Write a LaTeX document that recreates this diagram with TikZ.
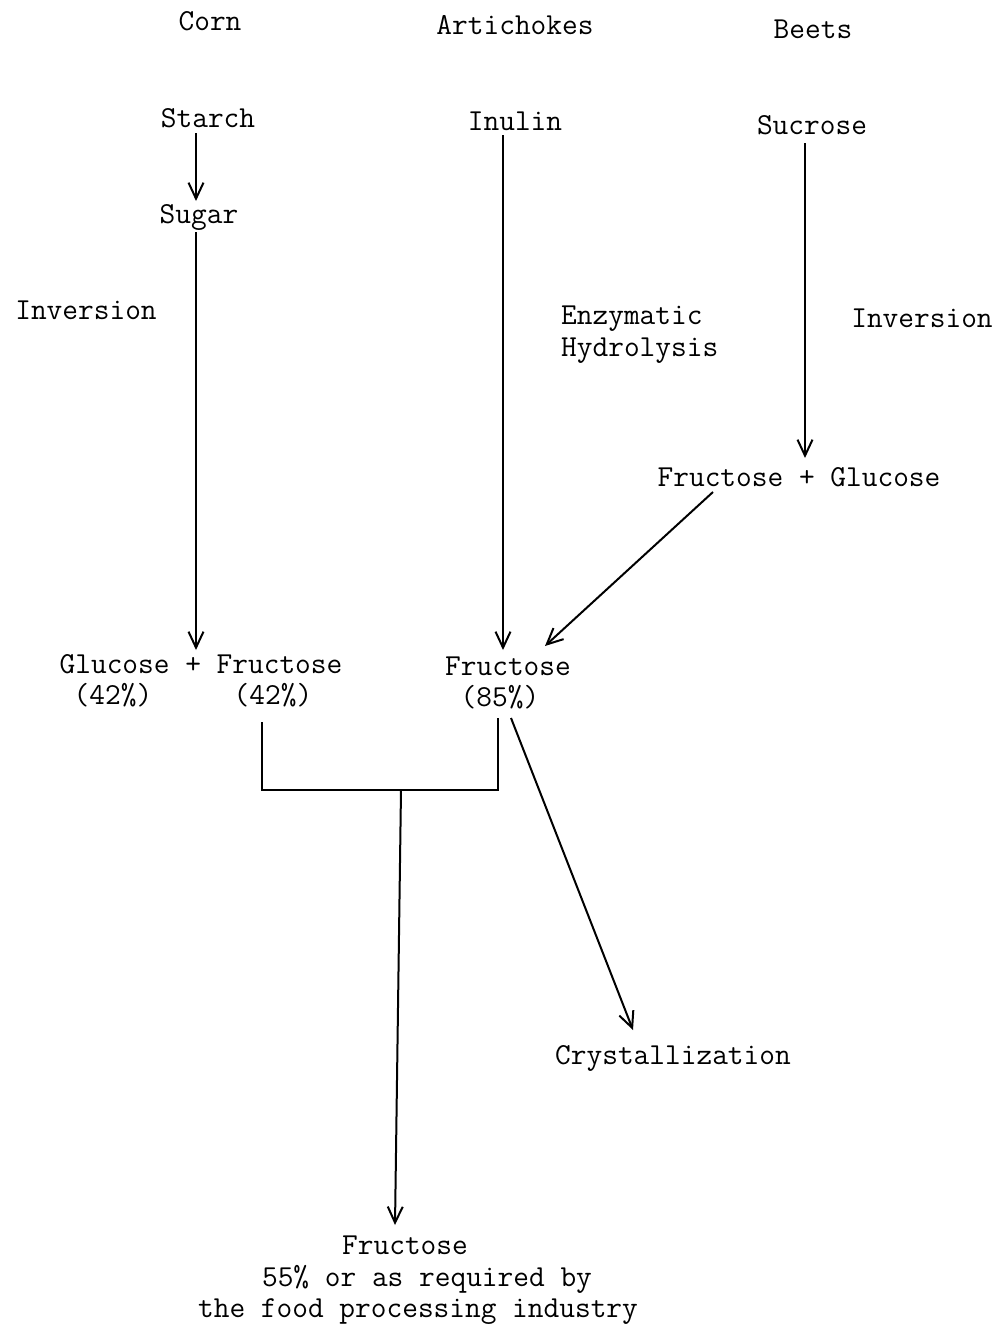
\documentclass[tikz,border=0pt]{standalone}
\usetikzlibrary{arrows.meta}
\begin{document}
\begin{tikzpicture}[x=1pt,y=-1pt,
  lbl/.style={inner sep=0pt,anchor=base,font=\fontsize{30.5}{32}\ttfamily},
  conn/.style={line width=2pt},
  arr/.style={conn,-{Straight Barb[length=16pt,width=15pt,line width=2pt]}}]
\useasboundingbox (0,0) rectangle (998,1330);
% headings
\node[lbl] (corn) at (210,31) {Corn};
\node[lbl] (arti) at (515,35) {Artichokes};
\node[lbl] (beets) at (813,38) {Beets};
% raw materials
\node[lbl] (starch) at (208,127) {Starch};
\node[lbl] (inulin) at (515,130) {Inulin};
\node[lbl] (sucrose) at (812,134) {Sucrose};
\node[lbl] (sugar) at (199,223) {Sugar};
% process labels
\node[lbl] (invl) at (86,319) {Inversion};
\node[lbl,anchor=base west] (enz) at (561,324) {Enzymatic};
\node[lbl,anchor=base west] (hyd) at (561,356) {Hydrolysis};
\node[lbl] (invr) at (922,327) {Inversion};
% intermediates
\node[lbl] (fg) at (799,486) {Fructose + Glucose};
\node[lbl] (gf) at (201,673) {Glucose + Fructose};
\node[lbl] (pa) at (113,704) {(42\%)};
\node[lbl] (pb) at (273,704) {(42\%)};
\node[lbl] (f85) at (508,675) {Fructose};
\node[lbl] (p85) at (500,706) {(85\%)};
\node[lbl] (cryst) at (673,1064) {Crystallization};
% final product
\node[lbl] (fin1) at (405,1254) {Fructose};
\node[lbl] (fin2) at (427,1286) {55\% or as required by};
\node[lbl] (fin3) at (418,1317) {the food processing industry};
% connectors
\draw[arr] ([shift={(-12,6)}]starch.base) -- ([shift={(-3,-22)}]sugar.base);
\draw[arr] ([shift={(-3,9)}]sugar.base) -- ([shift={(-5,-23)}]gf.base);
\draw[arr] ([shift={(-12,5)}]inulin.base) -- ([shift={(-5,-25)}]f85.base);
\draw[arr] ([shift={(-7,9)}]sucrose.base) -- ([shift={(6,-28)}]fg.base);
\draw[arr] ([shift={(-86,6)}]fg.base) -- ([shift={(37,-29)}]f85.base);
\draw[arr] ([shift={(11,12)}]p85.base) -- ([shift={(-40,-34)}]cryst.base);
\draw[conn] ([shift={(-11,18)}]pb.base) |- ([shift={(-2,84)}]p85.base) -- ([shift={(-2,12)}]p85.base);
\coordinate (join) at (401,790);
\draw[arr] (join) -- ([shift={(-10,-29)}]fin1.base);
\end{tikzpicture}
\end{document}
